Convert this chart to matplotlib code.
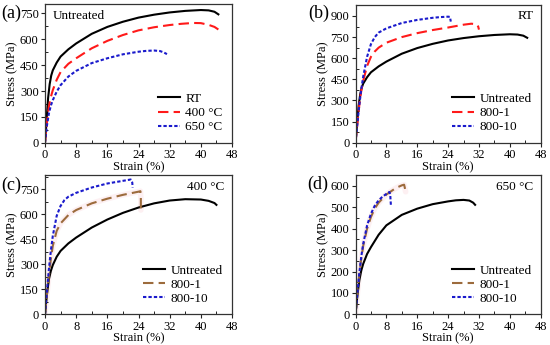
import matplotlib
matplotlib.use("Agg")
import matplotlib.pyplot as plt
from matplotlib.ticker import MultipleLocator

plt.rcParams['font.family'] = ['Liberation Serif', 'DejaVu Serif']

# ---------------- data ----------------
# Panel (a): untreated tested at RT / 400 C / 650 C
a_rt_x = [0, 0.4, 0.8, 1.2, 1.6, 2.0, 3.0, 4.0, 6.0, 8.0, 12.0, 16.0, 20.0, 24.0, 28.0, 32.0, 36.0, 40.0, 42.0, 43.5, 44.5]
a_rt_y = [0, 130, 260, 340, 390, 420, 465, 500, 542, 576, 632, 672, 702, 726, 743, 756, 765, 770, 768, 760, 745]
a_400_x = [0, 0.5, 1.0, 1.5, 2.0, 3.0, 4.0, 6.0, 8.0, 12.0, 16.0, 20.0, 24.0, 28.0, 32.0, 35.0, 38.0, 40.0, 42.0, 43.5, 44.5]
a_400_y = [0, 120, 210, 265, 305, 365, 410, 458, 490, 548, 591, 625, 652, 670, 683, 690, 695, 694, 684, 672, 657]
a_650_x = [0, 0.5, 1.0, 1.5, 2.0, 3.0, 4.0, 6.0, 8.0, 12.0, 16.0, 20.0, 24.0, 26.0, 28.0, 29.5, 30.5, 31.3]
a_650_y = [0, 100, 170, 215, 247, 296, 334, 384, 417, 462, 490, 513, 528, 533, 535, 532, 524, 514]

# Panel (b): RT
b_un_x = a_rt_x
b_un_y = a_rt_y
b_801_x = [0, 0.5, 1.0, 1.5, 2.0, 3.0, 4.0, 5.0, 6.0, 8.0, 12.0, 16.0, 20.0, 24.0, 28.0, 30.0, 31.3, 31.8, 32.0]
b_801_y = [0, 140, 270, 370, 440, 545, 610, 648, 675, 710, 750, 778, 800, 818, 838, 845, 842, 825, 803]
b_810_x = [0, 0.5, 1.0, 1.5, 2.0, 3.0, 4.0, 5.0, 6.0, 8.0, 12.0, 16.0, 20.0, 22.0, 24.0, 24.5, 24.6, 24.7]
b_810_y = [0, 140, 270, 380, 470, 610, 700, 750, 782, 812, 850, 872, 887, 892, 895, 893, 875, 860]

# Panel (c): 400 C
c_un_x = [0, 0.5, 1.0, 1.5, 2.0, 3.0, 4.0, 6.0, 8.0, 12.0, 16.0, 20.0, 24.0, 28.0, 32.0, 36.0, 40.0, 42.0, 43.5, 44.0]
c_un_y = [0, 120, 210, 260, 295, 345, 380, 425, 460, 520, 568, 608, 640, 665, 682, 690, 688, 680, 667, 656]
c_801_x = [0, 0.5, 1.0, 1.5, 2.0, 3.0, 4.0, 6.0, 8.0, 12.0, 16.0, 20.0, 24.0, 24.5, 24.6, 24.6]
c_801_y = [0, 120, 230, 330, 410, 500, 545, 595, 625, 665, 693, 716, 735, 738, 700, 625]
c_810_x = [0, 0.5, 1.0, 1.5, 2.0, 3.0, 4.0, 5.0, 6.0, 8.0, 12.0, 16.0, 20.0, 22.0, 22.4, 22.5]
c_810_y = [0, 140, 270, 380, 470, 590, 650, 685, 705, 728, 760, 784, 800, 808, 790, 760]

# Panel (d): 650 C
d_un_x = [0, 0.5, 1.0, 1.5, 2.0, 3.0, 4.0, 6.0, 8.0, 12.0, 16.0, 20.0, 24.0, 26.0, 28.0, 29.5, 30.5, 31.0]
d_un_y = [0, 90, 160, 205, 236, 282, 314, 372, 416, 465, 494, 515, 528, 533, 535, 532, 522, 512]
d_801_x = [0, 0.5, 1.0, 1.5, 2.0, 3.0, 4.0, 5.0, 6.0, 8.0, 10.0, 11.0, 12.0, 12.6, 12.8, 13.0]
d_801_y = [0, 100, 190, 260, 320, 400, 455, 495, 522, 560, 585, 595, 603, 606, 590, 573]
d_810_x = [0, 0.5, 1.0, 1.5, 2.0, 3.0, 4.0, 5.0, 6.0, 7.0, 8.0, 8.8, 9.0, 9.1, 9.2]
d_810_y = [0, 100, 195, 270, 330, 415, 470, 508, 533, 550, 563, 572, 560, 530, 505]

a_labels = ["RT", "400 °C", "650 °C"]
bcd_labels = ["Untreated", "800-1", "800-10"]
panel_tags = ["(a)", "(b)", "(c)", "(d)"]
panel_notes = ["Untreated", "RT", "400 °C", "650 °C"]

x_ticks = [0, 8, 16, 24, 32, 40, 48]
a_yticks = [0, 150, 300, 450, 600, 750]
b_yticks = [0, 150, 300, 450, 600, 750, 900]
c_yticks = [0, 150, 300, 450, 600, 750]
d_yticks = [0, 100, 200, 300, 400, 500, 600]

# ---------------- styles ----------------
BLACK = '#000000'
RED = '#ff1a1a'
BLUE = '#1a1acc'
BROWN = '#9c6b3c'
PINK = '#fdf0f2'
dash = (0, (5, 2.5))
dot = (0, (1.6, 1.0))

fig = plt.figure(figsize=(5.5, 3.45), dpi=100)
W, H = 550, 345

def add_ax(l, t, r, b):
    return fig.add_axes([l / W, 1 - b / H, (r - l) / W, (b - t) / H])

axA = add_ax(45, 4, 232, 142.7)
axB = add_ax(355.5, 4.7, 540.7, 142.7)
axC = add_ax(45, 175, 232, 314.3)
axD = add_ax(355.5, 175.3, 540.7, 314.3)

def style(ax, yticks, ytop, minor_y):
    ax.set_xlim(0, 48)
    ax.set_ylim(0, ytop)
    ax.set_xticks(x_ticks)
    ax.set_yticks(yticks)
    ax.xaxis.set_minor_locator(MultipleLocator(4))
    ax.yaxis.set_minor_locator(MultipleLocator(minor_y))
    ax.tick_params(which='major', direction='out', length=3, width=0.8, labelsize=9, pad=1.5, color='#222222')
    ax.tick_params(which='minor', direction='in', length=2, width=0.7, color='#222222')
    for s in ax.spines.values():
        s.set_color('#333333')
        s.set_linewidth(0.9)
    ax.set_xlabel("Strain (%)", fontsize=9, labelpad=0)
    ax.set_ylabel("Stress (MPa)", fontsize=9, labelpad=1)

lw = 1.5
# (a)
axA.plot(a_rt_x, a_rt_y, color=BLACK, lw=lw, label=a_labels[0])
axA.plot(a_400_x, a_400_y, color=RED, lw=lw, linestyle=dash, label=a_labels[1])
axA.plot(a_650_x, a_650_y, color=BLUE, lw=lw, linestyle=dot, label=a_labels[2])
style(axA, a_yticks, 805, 75)

# (b)
axB.plot(b_un_x, b_un_y, color=BLACK, lw=lw, label=bcd_labels[0])
axB.plot(b_801_x, b_801_y, color=RED, lw=lw, linestyle=dash, label=bcd_labels[1])
axB.plot(b_810_x, b_810_y, color=BLUE, lw=lw, linestyle=dot, label=bcd_labels[2])
style(axB, b_yticks, 980, 75)

# (c)
axC.plot(c_un_x, c_un_y, color=BLACK, lw=lw, label=bcd_labels[0])
axC.plot(c_801_x, c_801_y, color=PINK, lw=4, solid_capstyle='round', zorder=0.5)
axC.plot(c_801_x, c_801_y, color=BROWN, lw=lw, linestyle=dash, label=bcd_labels[1])
axC.plot(c_810_x, c_810_y, color=BLUE, lw=lw, linestyle=dot, label=bcd_labels[2])
style(axC, c_yticks, 835, 75)

# (d)
axD.plot(d_un_x, d_un_y, color=BLACK, lw=lw, label=bcd_labels[0])
axD.plot(d_801_x, d_801_y, color=PINK, lw=4, solid_capstyle='round', zorder=0.5)
axD.plot(d_801_x, d_801_y, color=BROWN, lw=lw, linestyle=dash, label=bcd_labels[1])
axD.plot(d_810_x, d_810_y, color=BLUE, lw=lw, linestyle=dot, label=bcd_labels[2])
style(axD, d_yticks, 650, 50)

for ax in (axA, axB, axC, axD):
    ax.legend(loc='lower right', frameon=False, fontsize=9.5, handlelength=1.7,
              handletextpad=0.4, labelspacing=0.15, borderaxespad=0.3)

# panel tags
tag_pos = [(1, 13), (308, 13), (1, 185), (307, 184)]
for tag, (x, y) in zip(panel_tags, tag_pos):
    fig.text(x / W, 1 - y / H, tag, fontsize=13, ha='left', va='center')

# notes
axA.text(0.04, 0.96, panel_notes[0], transform=axA.transAxes, fontsize=9.5, ha='left', va='top')
axB.text(0.96, 0.96, panel_notes[1], transform=axB.transAxes, fontsize=9.5, ha='right', va='top')
axC.text(0.96, 0.96, panel_notes[2], transform=axC.transAxes, fontsize=9.5, ha='right', va='top')
axD.text(0.96, 0.96, panel_notes[3], transform=axD.transAxes, fontsize=9.5, ha='right', va='top')

fig.savefig("out.png", dpi=100)
